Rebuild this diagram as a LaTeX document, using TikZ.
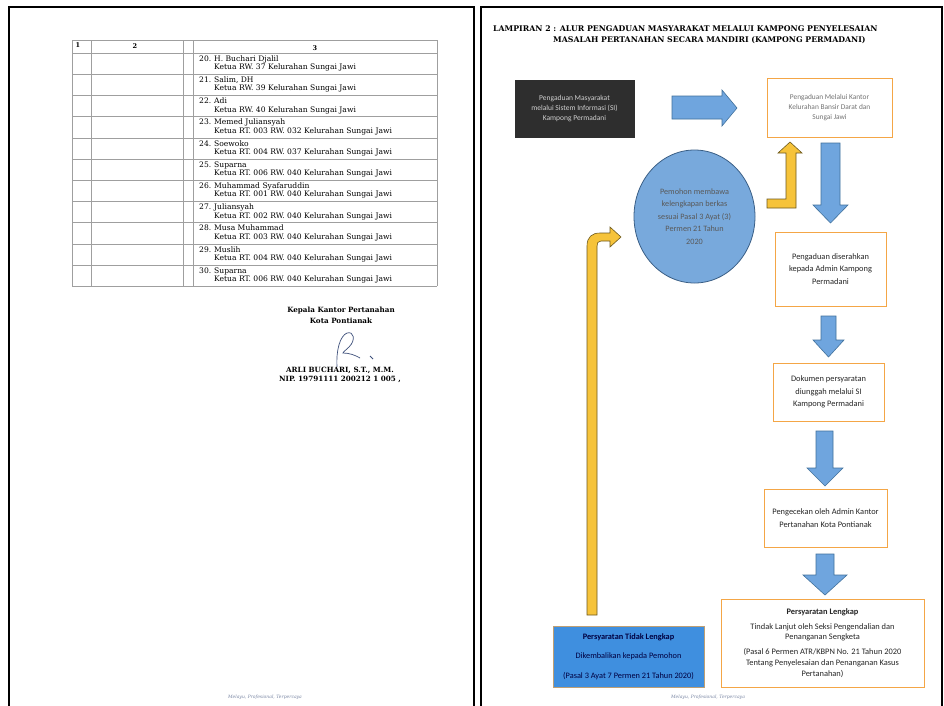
\documentclass[tikz,border=0pt]{standalone}
\usepackage{fontspec}
\setmainfont{DejaVu Serif}
\newfontfamily\flowfont{Carlito}
\usetikzlibrary{positioning}
\usetikzlibrary{shapes.geometric}

\definecolor{boxorange}{HTML}{F4A646}
\definecolor{arrowblue}{HTML}{6FA5DE}
\definecolor{arrowedge}{HTML}{41719C}
\definecolor{circleblue}{HTML}{78A9DC}
\definecolor{circleedge}{HTML}{3A5F86}
\definecolor{reqblue}{HTML}{3F8FDF}
\definecolor{arrowyellow}{HTML}{F6C33A}
\definecolor{yellowedge}{HTML}{6E5A1E}
\definecolor{darkfill}{HTML}{2E2E2E}
\definecolor{inkblue}{HTML}{3D4F7A}

\begin{document}
\begin{tikzpicture}[x=1pt, y=-1pt,
        page/.style={line width=1.4pt},
        rowline/.style={gray!75, line width=0.5pt},
        cell/.style={anchor=west, inner sep=0pt, align=left, font=\fontsize{7.6}{8.4}\selectfont},
        headcell/.style={inner sep=0pt, font=\bfseries\fontsize{6.5}{7}\selectfont},
        signtext/.style={inner sep=0pt, font=\bfseries\fontsize{7.2}{8}\selectfont},
        titletext/.style={anchor=west, inner sep=0pt, font=\bfseries\fontsize{7.8}{8}\selectfont},
        footer/.style={inner sep=0pt, text=inkblue!70, font=\itshape\fontsize{4.5}{5}\selectfont},
        flowbox/.style={draw=boxorange, line width=0.9pt, fill=white, align=center, inner sep=2pt, text=black!85, font=\flowfont\fontsize{8.4}{12.5}\selectfont},
        bluearrow/.style={fill=arrowblue, draw=arrowedge, line width=0.6pt},
        yellowarrow/.style={fill=arrowyellow, draw=yellowedge, line width=0.6pt}]
        \useasboundingbox (0,0) rectangle (944,705);
        \fill[white] (0,0) rectangle (944,705);

        % pages
        \draw[page] (9,706) -- (9,7) -- (474,7) -- (474,706);
        \draw[page] (481,706) -- (481,7) -- (942,7) -- (942,706);

        % table (left page)
        \draw[rowline] (72,40) -- (437,40);
        \draw[rowline] (72,53) -- (437,53);
        \draw[rowline] (72,74.2) -- (437,74.2);
        \draw[rowline] (72,95.4) -- (437,95.4);
        \draw[rowline] (72,116.6) -- (437,116.6);
        \draw[rowline] (72,137.8) -- (437,137.8);
        \draw[rowline] (72,159) -- (437,159);
        \draw[rowline] (72,180.2) -- (437,180.2);
        \draw[rowline] (72,201.4) -- (437,201.4);
        \draw[rowline] (72,222.6) -- (437,222.6);
        \draw[rowline] (72,243.8) -- (437,243.8);
        \draw[rowline] (72,265) -- (437,265);
        \draw[rowline] (72,286) -- (437,286);
        \draw[rowline] (72,40) -- (72,286);
        \draw[rowline] (91,40) -- (91,286);
        \draw[rowline] (183,40) -- (183,286);
        \draw[rowline] (193,40) -- (193,286);
        \draw[rowline] (437,40) -- (437,286);
        \node[headcell] (h1) at (78,45) {1};
        \node[headcell] (h2) at (135,46) {2};
        \node[headcell] (h3) at (315,48) {3};

        \node[cell] (r20) at (199,63.5) {\makebox[15pt][l]{20.}H. Buchari Djalil\\\hspace*{15pt}Ketua RW. 37 Kelurahan Sungai Jawi};
        \node[cell] (r21) at (199,84.7) {\makebox[15pt][l]{21.}Salim, DH\\\hspace*{15pt}Ketua RW. 39 Kelurahan Sungai Jawi};
        \node[cell] (r22) at (199,105.9) {\makebox[15pt][l]{22.}Adi\\\hspace*{15pt}Ketua RW. 40 Kelurahan Sungai Jawi};
        \node[cell] (r23) at (199,127.1) {\makebox[15pt][l]{23.}Memed Juliansyah\\\hspace*{15pt}Ketua RT. 003 RW. 032 Kelurahan Sungai Jawi};
        \node[cell] (r24) at (199,148.3) {\makebox[15pt][l]{24.}Soewoko\\\hspace*{15pt}Ketua RT. 004 RW. 037 Kelurahan Sungai Jawi};
        \node[cell] (r25) at (199,169.5) {\makebox[15pt][l]{25.}Suparna\\\hspace*{15pt}Ketua RT. 006 RW. 040 Kelurahan Sungai Jawi};
        \node[cell] (r26) at (199,190.7) {\makebox[15pt][l]{26.}Muhammad Syafaruddin\\\hspace*{15pt}Ketua RT. 001 RW. 040 Kelurahan Sungai Jawi};
        \node[cell] (r27) at (199,211.9) {\makebox[15pt][l]{27.}Juliansyah\\\hspace*{15pt}Ketua RT. 002 RW. 040 Kelurahan Sungai Jawi};
        \node[cell] (r28) at (199,233.1) {\makebox[15pt][l]{28.}Musa Muhammad\\\hspace*{15pt}Ketua RT. 003 RW. 040 Kelurahan Sungai Jawi};
        \node[cell] (r29) at (199,254.3) {\makebox[15pt][l]{29.}Muslih\\\hspace*{15pt}Ketua RT. 004 RW. 040 Kelurahan Sungai Jawi};
        \node[cell] (r30) at (199,275.5) {\makebox[15pt][l]{30.}Suparna\\\hspace*{15pt}Ketua RT. 006 RW. 040 Kelurahan Sungai Jawi};

        % signature block
        \node[signtext] (kepala) at (341,311) {Kepala Kantor Pertanahan};
        \node[signtext] (kota) at (341,321) {Kota Pontianak};
        \draw[inkblue, line width=0.7pt] (337,367) .. controls (336,350) and (340,336) .. (347,333)
            .. controls (354,331) and (356,340) .. (349,347) .. controls (346,350) and (343,352) .. (343,353)
            .. controls (349,353) and (355,355) .. (360,358);
        \draw[inkblue, line width=0.8pt] (370,356) -- (373,359);
        \node[signtext] (nama) at (340,370) {ARLI BUCHARI, S.T., M.M.};
        \node[signtext] (nip) at (340,379) {NIP. 19791111 200212 1 005 ,};
        \node[footer] (motto1) at (265,697) {Melayu, Profesional, Terpercaya};

        % title (right page)
        \node[titletext] (title1) at (493,29) {LAMPIRAN 2 : ALUR PENGADUAN MASYARAKAT MELALUI KAMPONG PENYELESAIAN};
        \node[titletext] (title2) at (553,40) {MASALAH PERTANAHAN SECARA MANDIRI (KAMPONG PERMADANI)};

        % flow boxes
        \node[flowbox, draw=darkfill, fill=darkfill, text=white!82!black, minimum width=119, minimum height=57, font=\flowfont\fontsize{7.5}{10}\selectfont] (online) at (574.5,108.5) {Pengaduan Masyarakat\\melalui Sistem Informasi (SI)\\Kampong Permadani};
        \node[flowbox, minimum width=125, minimum height=59, text=black!55, font=\flowfont\fontsize{7.4}{10}\selectfont] (kelurahan) at (829.5,107.5) {Pengaduan Melalui Kantor\\Kelurahan Bansir Darat dan\\Sungai Jawi};
        \node[ellipse, draw=circleedge, fill=circleblue, line width=0.8pt, minimum width=121, minimum height=133, align=center, text=black!65, font=\flowfont\fontsize{8.2}{12.5}\selectfont] (pemohon) at (694.5,216.5) {Pemohon membawa\\kelengkapan berkas\\sesuai Pasal 3 Ayat (3)\\Permen 21 Tahun\\2020};
        \node[flowbox, minimum width=111, minimum height=74] (admin) at (830.5,269) {Pengaduan diserahkan\\kepada Admin Kampong\\Permadani};
        \node[flowbox, minimum width=111, minimum height=58] (unggah) at (828.5,392) {Dokumen persyaratan\\diunggah melalui SI\\Kampong Permadani};
        \node[flowbox, minimum width=123, minimum height=58] (cek) at (825.5,518) {Pengecekan oleh Admin Kantor\\Pertanahan Kota Pontianak};
        \node[flowbox, minimum width=203, minimum height=88, font=\flowfont\fontsize{8.4}{10.8}\selectfont] (lengkap) at (822.5,643) {\textbf{Persyaratan Lengkap}\\[4pt]Tindak Lanjut oleh Seksi Pengendalian dan\\Penanganan Sengketa\\[4pt](Pasal 6 Permen ATR/KBPN No. 21 Tahun 2020\\Tentang Penyelesaian dan Penanganan Kasus\\Pertanahan)};
        \node[flowbox, fill=reqblue, draw=boxorange!70!reqblue, minimum width=151, minimum height=61, text=black!75!blue, font=\flowfont\fontsize{8.3}{19.5}\selectfont] (tidak) at (628.5,656.5) {\textbf{Persyaratan Tidak Lengkap}\\Dikembalikan kepada Pemohon\\(Pasal 3 Ayat 7 Permen 21 Tahun 2020)};
        \node[footer] (motto2) at (708,697) {Melayu, Profesional, Terpercaya};

        % block arrows
        \draw[bluearrow] (672,96) -- (722,96) -- (722,90) -- (737,108) -- (722,126) -- (722,119) -- (672,119) -- cycle;
        \draw[bluearrow] (821,143) -- (840,143) -- (840,205) -- (848,205) -- (830.5,223) -- (813,205) -- (821,205) -- cycle;
        \draw[bluearrow] (821,316) -- (836,316) -- (836,340) -- (844,340) -- (828.5,357) -- (813,340) -- (821,340) -- cycle;
        \draw[bluearrow] (816,431) -- (833,431) -- (833,468) -- (843,468) -- (825,486) -- (807,468) -- (816,468) -- cycle;
        \draw[bluearrow] (816,554) -- (834,554) -- (834,575) -- (847,575) -- (825,595) -- (803,575) -- (816,575) -- cycle;
        \draw[yellowarrow] (767,199) -- (786,199) -- (786,153) -- (778,153) -- (790,142) -- (802,153) -- (796,153) -- (796,208) -- (767,208) -- cycle;
        \draw[yellowarrow] (587,615) -- (587,246) .. controls (587,237) and (592,233) .. (600,233) -- (610,233) -- (610,227)
            -- (621,237) -- (610,247) -- (610,241) -- (601,241) .. controls (598,241) and (597,243) .. (597,246) -- (597,615) -- cycle;
\end{tikzpicture}
\end{document}
